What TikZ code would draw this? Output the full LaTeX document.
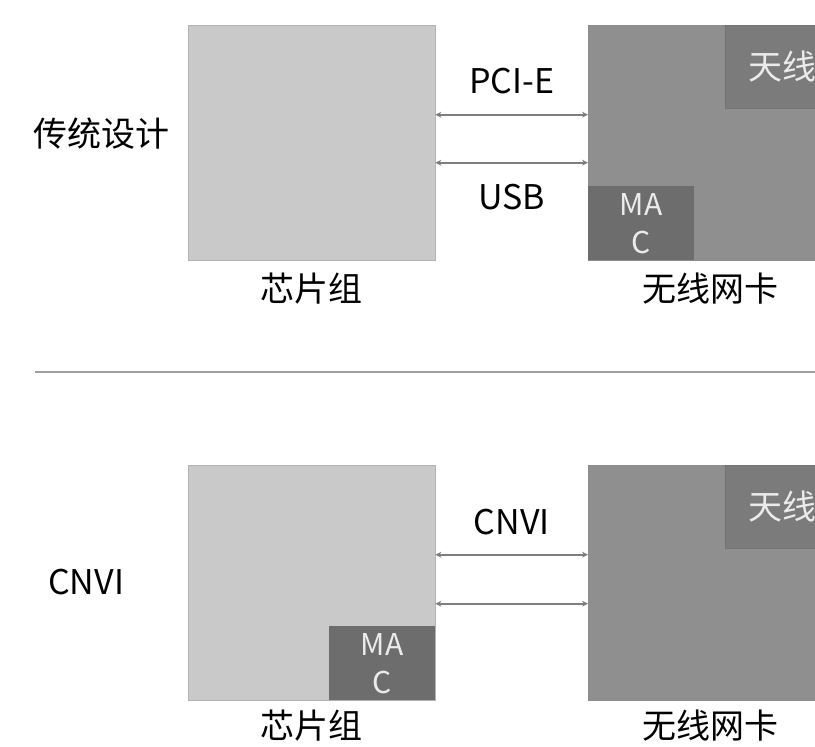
\documentclass[tikz,border=0pt]{standalone}
\usepackage{fontspec}
\setmainfont{Noto Sans CJK SC}
\usetikzlibrary{positioning,arrows.meta}
\definecolor{chipfill}{HTML}{C9C9C9}
\definecolor{cardfill}{HTML}{8F8F8F}
\definecolor{antfill}{HTML}{7B7B7B}
\definecolor{macfill}{HTML}{6D6D6D}
\definecolor{linkgray}{HTML}{7E7E7E}
\begin{document}
\begin{tikzpicture}[
    x=1pt, y=-1pt,
    font=\fontsize{34}{40}\selectfont,
    chip/.style={draw=black!30, fill=chipfill, inner sep=0pt, anchor=north west,
                 minimum width=247pt, minimum height=235pt},
    card/.style={draw=black!45, fill=cardfill, inner sep=0pt, anchor=north west,
                 minimum width=244pt, minimum height=235pt},
    ant/.style={draw=black!55, fill=antfill, text=white!92!black, inner sep=0pt,
                anchor=north west, minimum width=115pt, minimum height=83pt},
    mac/.style={fill=macfill, text=white!92!black, inner sep=0pt, align=center,
                minimum width=106pt, minimum height=74pt,
                font=\fontsize{30}{38}\selectfont},
    link/.style={{Stealth[length=6pt,width=6pt]}-{Stealth[length=6pt,width=6pt]},
                 draw=linkgray, line width=2.2pt},
    lbl/.style={inner sep=0pt},
  ]
  \useasboundingbox (0,0) rectangle (815,747);
  \fill[white] (0,0) rectangle (815,747);

  % --- traditional design ---
  \node[chip] (chipA) at (188,25) {};
  \node[card] (cardA) at (588,25) {};
  \node[ant] (antA) at (725,25) {天线};
  \node[mac, anchor=south west] (macA) at (cardA.south west) {MA\\C};
  \draw[link] ([yshift=28pt]chipA.east) -- node[lbl, above=20pt] (pcie) {PCI-E}
    ([yshift=28pt]cardA.west);
  \draw[link] ([yshift=-20pt]chipA.east) -- node[lbl, below=20pt] (usb) {USB}
    ([yshift=-20pt]cardA.west);
  \node[lbl, anchor=west] (old) at (33,134) {传统设计};
  \node[lbl, below=12pt of chipA] (chipAname) {芯片组};
  \node[lbl, below=12pt of cardA] (cardAname) {无线网卡};

  % --- separator ---
  \coordinate (sepL) at (35,372);
  \coordinate (sepR) at (815,372);
  \draw[gray!75, line width=2pt] (sepL) -- (sepR);

  % --- CNVI design ---
  \node[chip] (chipB) at (188,465) {};
  \node[card] (cardB) at (588,465) {};
  \node[ant] (antB) at (725,465) {天线};
  \node[mac, anchor=south east] (macB) at (chipB.south east) {MA\\C};
  \draw[link] ([yshift=28pt]chipB.east) -- node[lbl, above=19pt] (cnvilink) {CNVI}
    ([yshift=28pt]cardB.west);
  \draw[link] ([yshift=-21pt]chipB.east) -- ([yshift=-21pt]cardB.west);
  \node[lbl, anchor=west] (new) at (48,582) {CNVI};
  \node[lbl, below=9pt of chipB] (chipBname) {芯片组};
  \node[lbl, below=9pt of cardB] (cardBname) {无线网卡};
\end{tikzpicture}
\end{document}
